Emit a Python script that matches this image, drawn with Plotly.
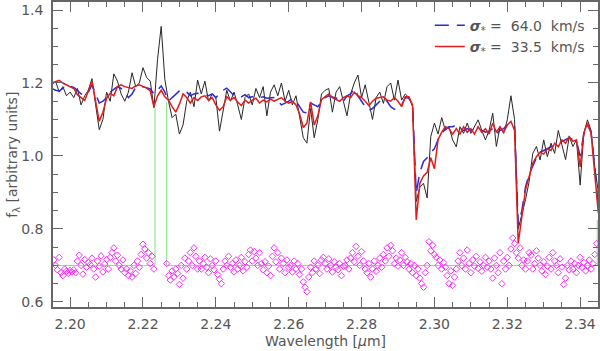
import numpy as np
import plotly.graph_objects as go

# wavelength grid of the spectrum and models (micron), 0.001 steps
wave = np.round(2.195 + 0.001 * np.arange(151), 3)

# observed spectrum (black)
flux = [
    1.195, 1.205, 1.175, 1.190, 1.165, 1.175, 1.160, 1.185, 1.140, 1.165,
    1.180, 1.212, 1.140, 1.072, 1.100, 1.175, 1.150, 1.225, 1.205, 1.170,
    1.150, 1.175, 1.228, 1.190, 1.200, 1.242, 1.215, 1.205, 1.132, 1.265,
    1.355, 1.210, 1.150, 1.105, 1.115, 1.060, 1.085, 1.150, 1.175, 1.135,
    1.208, 1.170, 1.205, 1.150, 1.170, 1.160, 1.068, 1.130, 1.180, 1.150,
    1.175, 1.140, 1.100, 1.160, 1.170, 1.140, 1.185, 1.160, 1.190, 1.110,
    1.175, 1.195, 1.165, 1.200, 1.150, 1.180, 1.140, 1.165, 1.110, 1.050,
    1.035, 1.130, 1.050, 1.100, 1.170, 1.180, 1.185, 1.120, 1.175, 1.190,
    1.150, 1.110, 1.170, 1.200, 1.222, 1.160, 1.195, 1.150, 1.100, 1.160,
    1.175, 1.144, 1.190, 1.200, 1.153, 1.208, 1.153, 1.170, 1.160, 1.135,
    0.875, 0.915, 0.925, 0.885, 1.053, 1.090, 1.060, 1.105, 1.070, 1.080,
    1.044, 1.025, 1.080, 1.062, 1.090, 1.062, 1.080, 1.099, 1.070, 1.044,
    1.070, 1.117, 1.026, 1.080, 1.062, 1.099, 1.165, 1.100, 0.800, 0.840,
    0.880, 0.930, 1.007, 1.026, 0.989, 1.044, 0.998, 1.035, 1.007, 1.070,
    1.026, 0.990, 1.053, 1.026, 1.044, 0.920, 1.062, 1.099, 1.070, 0.971, 0.900,
]

# best fit template, sigma = 64.0 km/s (blue dashed)
model_64 = [
    1.185, 1.180, 1.178, 1.185, 1.195, 1.192, 1.188, 1.180, 1.170, 1.165,
    1.175, 1.195, 1.170, 1.145, 1.150, 1.160, 1.175, 1.182, 1.190, 1.185,
    1.175, 1.160, 1.170, 1.188, 1.192, 1.190, 1.188, 1.184, 1.170, 1.180,
    1.192, 1.175, 1.150, 1.160, 1.168, 1.178, 1.182, 1.175, 1.165, 1.170,
    1.172, 1.170, 1.168, 1.165, 1.170, 1.160, 1.170, 1.180, 1.186, 1.175,
    1.165, 1.160, 1.162, 1.168, 1.160, 1.162, 1.165, 1.160, 1.162, 1.158,
    1.160, 1.160, 1.150, 1.140, 1.145, 1.150, 1.158, 1.150, 1.135, 1.120,
    1.118, 1.145, 1.140, 1.135, 1.150, 1.160, 1.165, 1.162, 1.158, 1.160,
    1.150, 1.165, 1.170, 1.185, 1.165, 1.150, 1.135, 1.125, 1.130, 1.140,
    1.150, 1.160, 1.150, 1.135, 1.128, 1.130, 1.140, 1.160, 1.158, 1.140,
    0.898, 0.955, 0.985, 0.995, 1.010, 1.020, 1.045, 1.060, 1.075, 1.080,
    1.080, 1.085, 1.075, 1.070, 1.075, 1.070, 1.072, 1.078, 1.070, 1.065,
    1.068, 1.075, 1.060, 1.070, 1.075, 1.085, 1.090, 1.080, 0.810, 0.850,
    0.915, 0.950, 0.975, 0.995, 1.010, 1.015, 1.020, 1.025, 1.030, 1.035,
    1.040, 1.045, 1.050, 1.045, 1.040, 1.000, 1.060, 1.085, 1.065, 0.970, 0.860,
]

# sigma = 33.5 km/s (red)
model_335 = [
    1.200, 1.203, 1.207, 1.200, 1.195, 1.190, 1.185, 1.168, 1.160, 1.152,
    1.178, 1.205, 1.150, 1.095, 1.120, 1.158, 1.172, 1.165, 1.190, 1.195,
    1.190, 1.188, 1.185, 1.192, 1.195, 1.190, 1.186, 1.178, 1.135, 1.165,
    1.180, 1.162, 1.153, 1.135, 1.120, 1.142, 1.170, 1.160, 1.145, 1.160,
    1.152, 1.162, 1.165, 1.153, 1.160, 1.140, 1.125, 1.135, 1.162, 1.153,
    1.160, 1.148, 1.138, 1.153, 1.145, 1.153, 1.158, 1.145, 1.153, 1.148,
    1.156, 1.150, 1.155, 1.160, 1.150, 1.145, 1.150, 1.140, 1.115, 1.078,
    1.090, 1.148, 1.085, 1.110, 1.155, 1.162, 1.170, 1.160, 1.155, 1.150,
    1.160, 1.165, 1.160, 1.175, 1.165, 1.160, 1.150, 1.138, 1.150, 1.158,
    1.160, 1.162, 1.153, 1.150, 1.160, 1.150, 1.135, 1.162, 1.162, 1.140,
    0.825, 0.925, 0.945, 0.955, 0.995, 0.965, 1.045, 1.065, 1.080, 1.075,
    1.060, 1.075, 1.060, 1.080, 1.065, 1.075, 1.060, 1.080, 1.065, 1.075,
    1.060, 1.090, 1.065, 1.080, 1.065, 1.085, 1.095, 1.070, 0.760, 0.834,
    0.907, 0.944, 0.980, 0.998, 1.010, 1.005, 1.020, 1.015, 1.035, 1.025,
    1.044, 1.035, 1.053, 1.040, 1.044, 0.970, 1.062, 1.090, 1.062, 0.952, 0.843,
]

# residuals (offset to 0.70), 0.0005 steps from 2.1955; None = masked pixels
resid = [
    0.715, 0.700, 0.688, 0.722, 0.680, 0.672, 0.690, 0.684, 0.678, 0.686,
    0.682, 0.688, 0.680, 0.712, 0.728, 0.700, 0.676, 0.716, 0.695, 0.708,
    0.702, 0.720, 0.690, 0.668, 0.712, 0.698, 0.726, 0.682, 0.704, 0.716,
    0.690, 0.722, 0.735, 0.748, 0.712, 0.728, 0.700, 0.690, 0.715, 0.680,
    0.690, 0.672, 0.685, 0.668, 0.700, 0.678, 0.712, 0.695, 0.730, 0.758,
    0.745, 0.720, 0.735, 0.705, 0.725, 0.690, None, None, None, None,
    None, None, 0.705, 0.672, 0.660, 0.685, 0.668, 0.690, 0.678, 0.648,
    0.700, 0.665, 0.720, 0.690, 0.712, 0.735, 0.700, 0.748, 0.725, 0.690,
    0.712, 0.690, 0.705, 0.722, 0.695, 0.680, 0.718, 0.700, 0.688, 0.712,
    0.675, 0.662, 0.650, 0.690, 0.712, 0.700, 0.725, 0.695, 0.705, 0.682,
    0.715, 0.690, 0.700, 0.722, 0.685, 0.710, 0.695, 0.730, 0.742, 0.712,
    0.738, 0.720, 0.700, 0.735, 0.705, 0.688, 0.710, 0.680, 0.698, 0.672,
    0.725, 0.748, 0.710, 0.735, 0.690, 0.720, 0.705, 0.680, 0.715, 0.695,
    0.700, 0.682, 0.712, 0.690, 0.705, 0.675, 0.690, 0.655, 0.640, 0.628,
    0.668, 0.695, 0.680, 0.712, 0.690, 0.700, 0.678, 0.715, 0.722, 0.705,
    0.690, 0.718, 0.700, 0.682, 0.710, 0.695, 0.688, 0.705, 0.672, 0.698,
    0.700, 0.715, 0.690, 0.720, 0.735, 0.710, 0.752, 0.725, 0.700, 0.738,
    0.712, 0.690, 0.680, 0.705, 0.668, 0.690, 0.712, 0.684, 0.700, 0.720,
    0.695, 0.730, 0.712, 0.748, 0.725, 0.755, 0.740, 0.705, 0.720, 0.698,
    0.715, 0.735, 0.700, 0.722, 0.710, 0.690, 0.705, 0.680, 0.700, 0.672,
    0.690, 0.665, 0.650, 0.640, 0.680, 0.700, 0.765, 0.740, 0.755, 0.730,
    0.722, 0.700, 0.715, 0.690, 0.708, 0.695, 0.672, 0.650, 0.685, 0.645,
    0.668, 0.690, 0.712, 0.735, 0.700, 0.720, 0.690, 0.742, 0.705, 0.680,
    0.715, 0.698, 0.725, 0.692, 0.710, 0.684, 0.700, 0.722, 0.695, 0.712,
    0.690, 0.665, 0.720, 0.700, 0.680, 0.735, 0.650, 0.712, 0.690, 0.722,
    0.700, 0.745, 0.775, 0.760, 0.735, 0.720, 0.748, 0.700, 0.715, 0.690,
    0.712, 0.735, 0.728, 0.690, 0.705, 0.740, 0.720, 0.700, 0.685, 0.710,
    0.675, 0.698, 0.722, 0.690, 0.735, 0.712, 0.700, 0.680, 0.718, 0.695,
    0.648, 0.665, 0.700, 0.688, 0.712, 0.690, 0.705, 0.680, 0.700, 0.722,
    0.695, 0.708, 0.685, 0.700, 0.715, 0.690, 0.705, 0.730, 0.760,
]
resid_wave = np.round(2.1955 + 0.0005 * np.arange(len(resid)), 4)

# zero level of the residuals with the masked region (green)
zero_x = [2.1953, 2.2233, 2.2233, None, 2.2265, 2.2265, 2.3447, 2.3447]
zero_y = [0.70, 0.70, 1.131, None, 1.149, 0.70, 0.70, 0.825]

FONT = "DejaVu Sans"
AX = "#666666"
TXT = "#555555"

fig = go.Figure()
fig.add_trace(go.Scatter(x=wave, y=flux, mode='lines', showlegend=False,
                         line=dict(color='#262626', width=1)))
fig.add_trace(go.Scatter(x=wave, y=model_64, mode='lines',
                         name='<b><i>σ</i></b><sub>*</sub> =  64.0  km/s',
                         line=dict(color='#2a2ad6', width=1.5, dash='14px,8px')))
fig.add_trace(go.Scatter(x=wave, y=model_335, mode='lines',
                         name='<b><i>σ</i></b><sub>*</sub> =  33.5  km/s',
                         line=dict(color='#e01c1c', width=1.5)))
fig.add_trace(go.Scatter(x=zero_x, y=zero_y, mode='lines', showlegend=False,
                         connectgaps=False, line=dict(color='#7ee27e', width=1)))
fig.add_trace(go.Scatter(x=resid_wave, y=resid, mode='markers', showlegend=False,
                         marker=dict(symbol='diamond-open', size=5, color='#ff2cff',
                                     line=dict(width=1))))

axis_common = dict(
    showgrid=False, zeroline=False, showline=True, linecolor=AX, linewidth=1.5,
    mirror='allticks', ticks='inside', ticklen=10, tickwidth=1, tickcolor=AX,
    tickfont=dict(family=FONT, size=14, color=TXT), automargin=False,
)

fig.update_layout(
    width=600, height=351,
    margin=dict(l=53, r=2, t=2, b=44),
    paper_bgcolor='white', plot_bgcolor='white',
    font=dict(family=FONT, color=TXT),
    xaxis=dict(range=[2.1953, 2.3449], tick0=2.20, dtick=0.02, tickformat='.2f',
               minor=dict(tick0=2.20, dtick=0.005, ticks='inside', ticklen=5, tickcolor=AX),
               ticklabelstandoff=3, **axis_common),
    yaxis=dict(range=[0.586, 1.422], tick0=0.6, dtick=0.2, tickformat='.1f',
               minor=dict(tick0=0.6, dtick=0.05, ticks='inside', ticklen=5, tickcolor=AX),
               ticklabelstandoff=5, **axis_common),
    legend=dict(x=0.985, xanchor='right', y=0.975, yanchor='top', bgcolor='rgba(0,0,0,0)',
                font=dict(family=FONT, size=14, color=TXT), tracegroupgap=0),
    annotations=[
        dict(text='Wavelength [<i>μ</i>m]', xref='paper', yref='paper', x=0.5, y=-0.112,
             xanchor='center', yanchor='middle', showarrow=False,
             font=dict(family=FONT, size=14, color=TXT)),
        dict(text='f<sub>λ</sub> [arbitrary units]', xref='paper', yref='paper', x=-0.075, y=0.5,
             xanchor='center', yanchor='middle', textangle=-90, showarrow=False,
             font=dict(family=FONT, size=14, color=TXT)),
    ],
)

fig.write_html("out.html", config={'displayModeBar': False},
               post_script="document.body.style.margin='0';document.body.style.padding='0';")
